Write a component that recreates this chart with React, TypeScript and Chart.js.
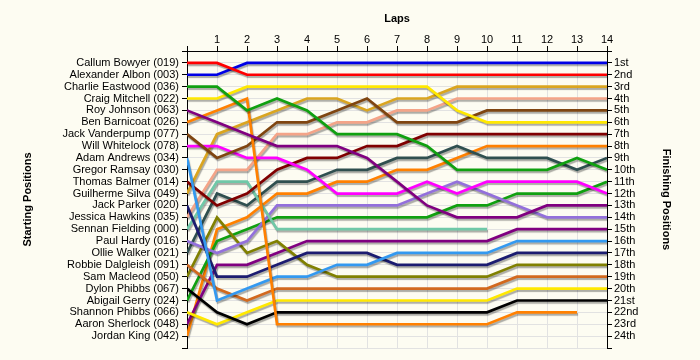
import { useEffect, useRef } from 'react';
import { Chart, registerables } from 'chart.js';

Chart.register(...registerables);

const laps = [0, 1, 2, 3, 4, 5, 6, 7, 8, 9, 10, 11, 12, 13, 14];

const startingGrid = [
  'Callum Bowyer (019)', 'Alexander Albon (003)', 'Charlie Eastwood (036)', 'Craig Mitchell (022)',
  'Roy Johnson (063)', 'Ben Barnicoat (026)', 'Jack Vanderpump (077)', 'Will Whitelock (078)',
  'Adam Andrews (034)', 'Gregor Ramsay (030)', 'Thomas Balmer (014)', 'Guilherme Silva (049)',
  'Jack Parker (020)', 'Jessica Hawkins (035)', 'Sennan Fielding (000)', 'Paul Hardy (016)',
  'Ollie Walker (021)', 'Robbie Dalgleish (091)', 'Sam Macleod (050)', 'Dylon Phibbs (067)',
  'Abigail Gerry (024)', 'Shannon Phibbs (066)', 'Aaron Sherlock (048)', 'Jordan King (042)',
];

const finishingPositions = [
  '1st', '2nd', '3rd', '4th', '5th', '6th', '7th', '8th', '9th', '10th', '11th', '12th',
  '13th', '14th', '15th', '16th', '17th', '18th', '19th', '20th', '21st', '22nd', '23rd', '24th',
];

// positions per lap (lap 0 = grid)
const callumBowyer = [1, 1, 2, 2, 2, 2, 2, 2, 2, 2, 2, 2, 2, 2, 2];
const alexanderAlbon = [2, 2, 1, 1, 1, 1, 1, 1, 1, 1, 1, 1, 1, 1, 1];
const charlieEastwood = [3, 3, 5, 4, 5, 7, 7, 7, 8, 10, 10, 10, 10, 9, 10];
const craigMitchell = [4, 4, 3, 3, 3, 3, 3, 3, 3, 5, 6, 6, 6, 6, 6];
const royJohnson = [5, 6, 7, 8, 8, 8, 9, 11, 13, 14, 14, 14, 13, 13, 13];
const benBarnicoat = [6, 5, 4, 23, 23, 23, 23, 23, 23, 23, 23, 22, 22, 22, null];
const jackVanderpump = [7, 9, 8, 6, 6, 5, 4, 6, 6, 6, 5, 5, 5, 5, 5];
const willWhitelock = [8, 8, 9, 9, 10, 12, 12, 12, 11, 12, 11, 11, 11, 11, 12];
const adamAndrews = [9, 21, 20, 19, 19, 18, 18, 17, 17, 17, 17, 16, 16, 16, 16];
const thomasBalmer = [11, 13, 12, 10, 9, 9, 8, 8, 7, 7, 7, 7, 7, 7, 7];
const guilhermeSilva = [12, 7, 6, 5, 4, 4, 5, 4, 4, 3, 3, 3, 3, 3, 3];
const jackParker = [13, 19, 19, 18, 17, 17, 17, 18, 18, 18, 18, 17, 17, 17, 17];
const jessicaHawkins = [14, 10, 10, 7, 7, 6, 6, 5, 5, 4, 4, 4, 4, 4, 4];
const sennanFielding = [15, 11, 11, 15, 15, 15, 15, 15, 15, 15, 15, null, null, null, null];
const paulHardy = [16, 17, 16, 13, 13, 13, 13, 13, 12, 11, 12, 13, 14, 14, 14];
const ollieWalker = [17, 12, 13, 11, 11, 10, 10, 9, 9, 8, 9, 9, 9, 10, 9];
const robbieDalgleish = [18, 20, 21, 20, 20, 20, 20, 20, 20, 20, 20, 19, 19, 19, 19];
const samMacleod = [19, 14, 17, 16, 18, 19, 19, 19, 19, 19, 19, 18, 18, 18, 18];
const dylonPhibbs = [20, 22, 23, 22, 22, 22, 22, 22, 22, 22, 22, 21, 21, 21, 21];
const abigailGerry = [21, 16, 15, 14, 14, 14, 14, 14, 14, 13, 13, 12, 12, 12, 11];
const shannonPhibbs = [22, 23, 22, 21, 21, 21, 21, 21, 21, 21, 21, 20, 20, 20, 20];
const aaronSherlock = [23, 18, 18, 17, 16, 16, 16, 16, 16, 16, 16, 15, 15, 15, 15];
const jordanKing = [24, 15, 14, 12, 12, 11, 11, 10, 10, 9, 8, 8, 8, 8, 8];

const series = [
  { name: startingGrid[0], positions: callumBowyer, color: '#FF0000' },
  { name: startingGrid[1], positions: alexanderAlbon, color: '#0000E6' },
  { name: startingGrid[2], positions: charlieEastwood, color: '#10A010' },
  { name: startingGrid[3], positions: craigMitchell, color: '#FFE800' },
  { name: startingGrid[4], positions: royJohnson, color: '#800080' },
  { name: startingGrid[5], positions: benBarnicoat, color: '#FF8000' },
  { name: startingGrid[6], positions: jackVanderpump, color: '#7F4510' },
  { name: startingGrid[7], positions: willWhitelock, color: '#FF00FF' },
  { name: startingGrid[8], positions: adamAndrews, color: '#3399F0' },
  { name: startingGrid[10], positions: thomasBalmer, color: '#800000' },
  { name: startingGrid[11], positions: guilhermeSilva, color: '#DAA520' },
  { name: startingGrid[12], positions: jackParker, color: '#1C1C70' },
  { name: startingGrid[13], positions: jessicaHawkins, color: '#F4A488' },
  { name: startingGrid[14], positions: sennanFielding, color: '#70C8A8' },
  { name: startingGrid[15], positions: paulHardy, color: '#9370DB' },
  { name: startingGrid[16], positions: ollieWalker, color: '#2F4F4F' },
  { name: startingGrid[17], positions: robbieDalgleish, color: '#D2691E' },
  { name: startingGrid[18], positions: samMacleod, color: '#808000' },
  { name: startingGrid[19], positions: dylonPhibbs, color: '#000000' },
  { name: startingGrid[20], positions: abigailGerry, color: '#10A010' },
  { name: startingGrid[21], positions: shannonPhibbs, color: '#FFE800' },
  { name: startingGrid[22], positions: aaronSherlock, color: '#800080' },
  { name: startingGrid[23], positions: jordanKing, color: '#FF8000' },
];

const BG = '#FDFCF2';
const FONT = "'Liberation Sans', Arial, sans-serif";

const backgroundPlugin = {
  id: 'bg',
  beforeDraw(chart: any) {
    const ctx = chart.ctx;
    ctx.save();
    ctx.fillStyle = BG;
    ctx.fillRect(0, 0, chart.width, chart.height);
    ctx.restore();
  },
};

const shadowPlugin = {
  id: 'lineShadow',
  beforeDatasetDraw(chart: any) {
    const ctx = chart.ctx;
    ctx.save();
    ctx.shadowColor = 'rgba(0,0,0,0.32)';
    ctx.shadowOffsetX = 1;
    ctx.shadowOffsetY = 2;
    ctx.shadowBlur = 1;
  },
  afterDatasetDraw(chart: any) {
    chart.ctx.restore();
  },
};

export default function App() {
  const canvasRef = useRef<HTMLCanvasElement | null>(null);

  useEffect(() => {
    if (!canvasRef.current) return;
    const tickFont = { family: FONT, size: 11 };
    const titleFont = { family: FONT, size: 11, weight: 'bold' as const };
    const chart = new Chart(canvasRef.current, {
      type: 'line',
      data: {
        datasets: series.map((s) => ({
          label: s.name,
          data: laps.map((lap, i) => ({ x: lap, y: s.positions[i] as any })),
          borderColor: s.color,
          backgroundColor: s.color,
          borderWidth: 2.7,
          pointRadius: 0,
          pointHoverRadius: 0,
          tension: 0,
          spanGaps: false,
          fill: false,
          yAxisID: 'y',
        })),
      },
      options: {
        animation: false,
        responsive: false,
        maintainAspectRatio: false,
        events: [],
        layout: { padding: { top: 0, bottom: 12, left: 0, right: 0 } },
        plugins: { legend: { display: false }, tooltip: { enabled: false } },
        scales: {
          x: {
            type: 'linear',
            position: 'top',
            min: 0,
            max: 14,
            afterFit: (scale: any) => { scale.height = 51; },
            ticks: {
              stepSize: 1,
              autoSkip: false,
              maxRotation: 0,
              padding: -1,
              color: '#000',
              font: tickFont,
              callback: (v: any) => (v === 0 ? '' : String(v)),
            },
            grid: { color: '#E2E2E2', tickColor: '#000', tickLength: 5, lineWidth: 1 },
            border: { display: true, color: '#000', width: 1 },
            title: { display: true, text: 'Laps', color: '#000', font: titleFont, padding: { top: 12, bottom: 0 } },
          },
          y: {
            type: 'linear',
            position: 'left',
            reverse: true,
            min: 0,
            max: 25,
            afterFit: (scale: any) => { scale.width = 187; },
            ticks: {
              stepSize: 1,
              autoSkip: false,
              maxTicksLimit: 40,
              padding: 3,
              color: '#000',
              font: tickFont,
              callback: (v: any) => startingGrid[v - 1] ?? '',
            },
            grid: { color: '#E2E2E2', tickColor: '#000', tickLength: 5, lineWidth: 1 },
            border: { display: true, color: '#000', width: 1 },
            title: { display: true, text: 'Starting Positions', color: '#000', font: titleFont, padding: { top: 21, bottom: 0 } },
          },
          y2: {
            type: 'linear',
            position: 'right',
            reverse: true,
            min: 0,
            max: 25,
            afterFit: (scale: any) => { scale.width = 93; },
            ticks: {
              stepSize: 1,
              autoSkip: false,
              maxTicksLimit: 40,
              padding: 2,
              color: '#000',
              font: tickFont,
              callback: (v: any) => finishingPositions[v - 1] ?? '',
            },
            grid: { drawOnChartArea: false, color: '#E2E2E2', tickColor: '#000', tickLength: 5 },
            border: { display: true, color: '#000', width: 1 },
            title: { display: true, text: 'Finishing Positions', color: '#000', font: titleFont, padding: { top: 27, bottom: 0 } },
          },
        },
      },
      plugins: [backgroundPlugin, shadowPlugin],
    });
    return () => chart.destroy();
  }, []);

  return (
    <div style={{ width: 700, height: 360, background: BG }}>
      <style>{'body{margin:0;background:' + BG + ';}'}</style>
      <canvas ref={canvasRef} width={700} height={360} style={{ display: 'block' }} />
    </div>
  );
}
